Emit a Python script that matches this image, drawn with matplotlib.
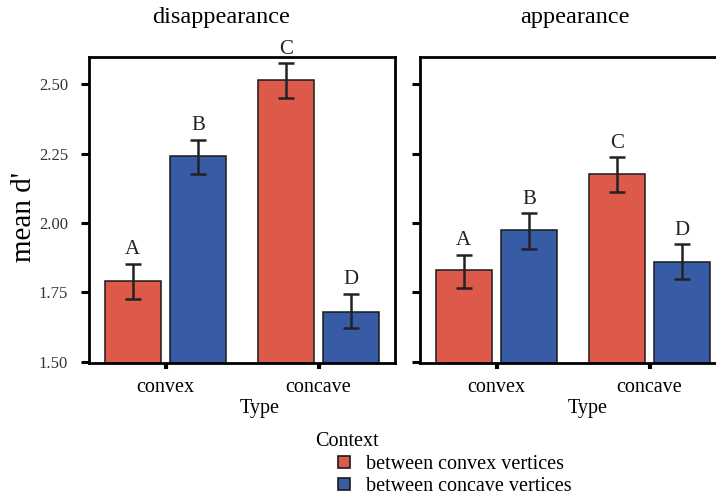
"""Mean d' by vertex type and context, split by disappearance / appearance."""

import matplotlib
matplotlib.use("Agg")
import matplotlib.pyplot as plt
import numpy as np
from matplotlib.patches import Patch

plt.rcParams["font.family"] = ["Liberation Serif", "DejaVu Serif"]

# data
panels = ["disappearance", "appearance"]
types = ["convex", "concave"]
contexts = ["between convex vertices", "between concave vertices"]
# mean[panel][context][type]
means = {
    "disappearance": {"convex_ctx": [1.79, 2.515], "concave_ctx": [2.24, 1.68]},
    "appearance": {"convex_ctx": [1.83, 2.175], "concave_ctx": [1.975, 1.86]},
}
err_lo = {
    "disappearance": {"convex_ctx": [1.725, 2.45], "concave_ctx": [2.175, 1.62]},
    "appearance": {"convex_ctx": [1.765, 2.11], "concave_ctx": [1.907, 1.797]},
}
err_hi = {
    "disappearance": {"convex_ctx": [1.853, 2.577], "concave_ctx": [2.30, 1.745]},
    "appearance": {"convex_ctx": [1.886, 2.236], "concave_ctx": [2.035, 1.924]},
}
letters = {"convex_ctx": ["A", "C"], "concave_ctx": ["B", "D"]}
yticks = [1.50, 1.75, 2.00, 2.25, 2.50]

RED = "#dd5a4b"
BLUE = "#375ca5"
colors = {"convex_ctx": RED, "concave_ctx": BLUE}
offsets = {"convex_ctx": -0.215, "concave_ctx": 0.215}

W, H = 716, 496
fig = plt.figure(figsize=(W / 100, H / 100), dpi=100)


def px_axes(x0, y0, x1, y1):
    return fig.add_axes([x0 / W, 1 - y1 / H, (x1 - x0) / W, (y1 - y0) / H])


axes = [px_axes(89, 57, 395, 362.7), px_axes(420, 57, 726, 362.7)]
title_x = [221, 575]
type_x = [260, 588]

for ax, panel, tx, ttx in zip(axes, panels, title_x, type_x):
    x = np.arange(1, len(types) + 1)
    for key in ["convex_ctx", "concave_ctx"]:
        m = np.array(means[panel][key])
        lo = m - np.array(err_lo[panel][key])
        hi = np.array(err_hi[panel][key]) - m
        xs = x + offsets[key]
        ax.bar(xs, m - 1.496, bottom=1.496, width=0.365, color=colors[key],
               edgecolor="#1a1a1a", linewidth=1.1, zorder=2)
        ax.errorbar(xs, m, yerr=[lo, hi], fmt="none", ecolor="#222222",
                    elinewidth=1.8, capsize=5.8, capthick=1.8, zorder=3)
        for xi, top, lab in zip(xs, err_hi[panel][key], letters[key]):
            ax.annotate(lab, (xi, top), xytext=(0, 3), textcoords="offset points",
                        ha="center", va="bottom", fontsize=15, color="#222222")

    ax.set_xlim(0.5, 2.5)
    ax.set_ylim(1.496, 2.598)
    ax.set_xticks(x)
    ax.set_xticklabels(types, fontsize=14.5)
    ax.set_yticks(yticks)
    ax.tick_params(axis="x", length=4, width=3, pad=7, color="black")
    ax.tick_params(axis="y", length=6, width=2.2, pad=9, color="black")
    for s in ax.spines.values():
        s.set_linewidth(2)
    fig.text(tx / W, 1 - 18 / H, panel, ha="center", va="center", fontsize=17.5)
    fig.text(ttx / W, 1 - 408 / H, "Type", ha="center", va="center", fontsize=14.5)

axes[0].set_yticklabels([f"{v:.2f}" for v in yticks], fontsize=12, color="#333333")
axes[1].set_yticklabels([])
axes[1].spines["right"].set_visible(False)
fig.text(24 / W, 1 - 217 / H, "mean d'", rotation=90, ha="center", va="center",
         fontsize=21)

fig.text(315 / W, 1 - 441 / H, "Context", ha="left", va="center", fontsize=14.5)
handles = [Patch(facecolor=RED, edgecolor="#1a1a1a", linewidth=1.2),
           Patch(facecolor=BLUE, edgecolor="#1a1a1a", linewidth=1.2)]
fig.legend(handles, contexts, loc="upper left",
           bbox_to_anchor=(338 / W, 1 - 455 / H), frameon=False, fontsize=14.5,
           handlelength=0.6, handleheight=0.6, handletextpad=0.8,
           labelspacing=0.15, borderpad=0, borderaxespad=0)

fig.savefig("out.png", dpi=100)
